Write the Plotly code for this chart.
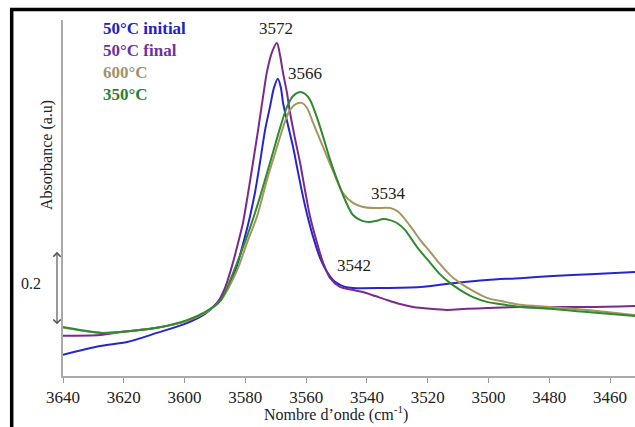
import plotly.graph_objects as go

# ---- data (wavenumber cm-1, absorbance a.u.) ----
wn_blue = [3640, 3627.8, 3618.9, 3609.1, 3599.2, 3593.3, 3589.3, 3585.7, 3582.7, 3580.4, 3578.5,
           3576.8, 3575.2, 3573.5, 3571.9, 3570.6, 3569.3, 3568.3, 3567.6, 3566.0, 3564.3, 3562.7,
           3561.0, 3559.4, 3557.7, 3555.4, 3553.1, 3550.5, 3547.2, 3544.6, 3535.7, 3522.5, 3511.0,
           3500.5, 3489.6, 3478.8, 3466.6, 3451.8]
ab_blue = [0.058, 0.082, 0.093, 0.118, 0.145, 0.170, 0.200, 0.241, 0.304, 0.373, 0.436,
           0.504, 0.584, 0.674, 0.737, 0.789, 0.814, 0.789, 0.748, 0.688, 0.627, 0.559,
           0.490, 0.433, 0.381, 0.323, 0.285, 0.258, 0.244, 0.241, 0.241, 0.244, 0.255,
           0.263, 0.268, 0.274, 0.279, 0.285]

wn_purple = [3640, 3627.8, 3620.3, 3609.1, 3599.2, 3593.3, 3589.3, 3586.7, 3584.1, 3582.4, 3580.8,
             3579.1, 3577.5, 3575.8, 3574.2, 3572.9, 3571.2, 3569.6, 3568.6, 3567.6, 3566.3, 3565.3,
             3563.7, 3562.0, 3560.4, 3558.7, 3556.4, 3554.4, 3552.1, 3548.9, 3544.9, 3541.3, 3537.3,
             3533.4, 3529.1, 3524.8, 3519.2, 3513.6, 3507.1, 3500.5, 3489.6, 3467.6, 3451.8]
ab_purple = [0.110, 0.112, 0.121, 0.132, 0.151, 0.173, 0.200, 0.241, 0.310, 0.364, 0.419,
             0.501, 0.584, 0.674, 0.764, 0.833, 0.888, 0.912, 0.879, 0.830, 0.775, 0.721,
             0.652, 0.584, 0.510, 0.436, 0.364, 0.310, 0.268, 0.244, 0.236, 0.230, 0.219,
             0.208, 0.197, 0.189, 0.184, 0.181, 0.184, 0.186, 0.189, 0.189, 0.192]

wn_olive = [3640, 3627.2, 3620.3, 3609.1, 3599.2, 3593.3, 3588.3, 3582.7, 3579.5, 3576.2, 3572.9,
            3569.6, 3567.0, 3565.3, 3563.3, 3561.4, 3559.7, 3557.7, 3555.4, 3553.1, 3550.5, 3547.9,
            3544.6, 3541.3, 3537.3, 3532.4, 3530.1, 3528.1, 3524.8, 3522.5, 3519.2, 3516.0, 3512.7,
            3509.4, 3505.1, 3500.5, 3494.6, 3489.6, 3479.7, 3467.6, 3451.8]
ab_olive = [0.132, 0.118, 0.121, 0.132, 0.151, 0.173, 0.205, 0.290, 0.364, 0.436, 0.537,
            0.627, 0.696, 0.729, 0.745, 0.748, 0.734, 0.693, 0.647, 0.600, 0.548, 0.501,
            0.474, 0.463, 0.460, 0.460, 0.452, 0.436, 0.400, 0.373, 0.340, 0.307, 0.277,
            0.255, 0.233, 0.214, 0.203, 0.195, 0.189, 0.181, 0.167]

wn_green = [3640, 3634.4, 3627.2, 3620.3, 3609.1, 3599.2, 3593.3, 3588.3, 3585.0, 3581.8, 3578.5,
            3575.2, 3571.9, 3568.6, 3566.3, 3564.3, 3562.0, 3560.4, 3558.7, 3556.4, 3554.4, 3552.1,
            3549.8, 3547.2, 3544.6, 3541.6, 3539.0, 3536.7, 3534.7, 3532.4, 3530.1, 3527.5, 3523.5,
            3519.2, 3516.0, 3512.7, 3509.4, 3505.1, 3500.5, 3494.6, 3489.6, 3479.7, 3467.6, 3451.8]
ab_green = [0.134, 0.126, 0.118, 0.121, 0.132, 0.153, 0.175, 0.205, 0.262, 0.330, 0.405,
            0.490, 0.584, 0.679, 0.737, 0.767, 0.778, 0.773, 0.756, 0.707, 0.655, 0.592,
            0.537, 0.482, 0.441, 0.425, 0.422, 0.425, 0.430, 0.427, 0.419, 0.400, 0.353,
            0.310, 0.279, 0.255, 0.236, 0.216, 0.203, 0.195, 0.189, 0.184, 0.175, 0.164]

series_names = ["50°C initial", "50°C final", "600°C", "350°C"]
peak_labels = ["3572", "3566", "3534", "3542"]
x_ticks = [3640, 3620, 3600, 3580, 3560, 3540, 3520, 3500, 3480, 3460]

line_colors = ["#2626CC", "#7A2A8C", "#A39660", "#2E8B2E"]
text_colors = ["#2222C0", "#7030A0", "#A09468", "#2E7D32"]

fig = go.Figure()
for wn, ab, name, col in zip([wn_blue, wn_purple, wn_olive, wn_green],
                             [ab_blue, ab_purple, ab_olive, ab_green],
                             series_names, line_colors):
    fig.add_trace(go.Scatter(x=wn, y=ab, mode="lines", name=name,
                             line=dict(color=col, width=2, shape="spline", smoothing=0.8),
                             showlegend=False))

W, H = 635, 427
L, R, T, B = 63, 0, 20, 51
pw, ph = W - L - R, H - T - B


def px(xp):
    return (xp - L) / pw


def py(yp):
    return (H - B - yp) / ph


serif = "Liberation Serif, Times New Roman, serif"
annots = []
# legend-like coloured labels
for i, (name, col) in enumerate(zip(series_names, text_colors)):
    annots.append(dict(x=px(101), y=py(28 + i * 22.3), xref="paper", yref="paper",
                       text="<b>" + name + "</b>", showarrow=False, xanchor="left",
                       yanchor="middle", font=dict(family=serif, size=17, color=col)))
# peak labels
for lab, (lx, ly) in zip(peak_labels, [(276, 28), (305, 73), (388, 193), (354, 265)]):
    annots.append(dict(x=px(lx), y=py(ly), xref="paper", yref="paper", text=lab,
                       showarrow=False, xanchor="center", yanchor="middle",
                       font=dict(family=serif, size=17, color="#222")))
# axis titles
annots.append(dict(x=px(336), y=py(426), xref="paper", yref="paper",
                   text="Nombre d’onde (cm<sup>-1</sup>)", showarrow=False,
                   xanchor="center", yanchor="bottom",
                   font=dict(family=serif, size=16, color="#222")))
annots.append(dict(x=px(47), y=py(155), xref="paper", yref="paper",
                   text="Absorbance (a.u)", textangle=-90, showarrow=False,
                   xanchor="center", yanchor="middle",
                   font=dict(family=serif, size=16, color="#222")))
# scale bar
annots.append(dict(x=px(31), y=py(283), xref="paper", yref="paper", text="0.2",
                   showarrow=False, xanchor="center", yanchor="middle",
                   font=dict(family=serif, size=16, color="#222")))
annots.append(dict(x=px(57), y=0.340, xref="paper", yref="y", ax=0, ay=74,
                   text="", showarrow=True, arrowside="end+start", arrowhead=4,
                   arrowsize=1.2, arrowwidth=1.2, arrowcolor="#555", standoff=0,
                   startstandoff=0, startarrowhead=4, startarrowsize=1.2))

shapes = [
    dict(type="line", xref="paper", yref="paper", x0=px(11.7), x1=px(11.7),
         y0=py(8), y1=py(440), line=dict(color="black", width=3.5)),
    dict(type="line", xref="paper", yref="paper", x0=px(10), x1=px(640),
         y0=py(9.6), y1=py(9.6), line=dict(color="black", width=3.5)),
]

fig.update_layout(
    width=W, height=H, margin=dict(l=L, r=R, t=T, b=B),
    paper_bgcolor="white", plot_bgcolor="white",
    annotations=annots, shapes=shapes,
    xaxis=dict(range=[3640, 3451.8], tickvals=x_ticks, ticks="outside", ticklen=5,
               tickcolor="#999", showline=True, linecolor="#AAA", linewidth=1.5,
               showgrid=False, zeroline=False,
               tickfont=dict(family=serif, size=17, color="#222")),
    yaxis=dict(range=[0, 0.975], showticklabels=False, ticks="", showline=True,
               linecolor="#AAA", linewidth=1.5, showgrid=False, zeroline=False),
)

fig.write_html("out.html", config={"displayModeBar": False},
               post_script="document.body.style.margin='0px';")
